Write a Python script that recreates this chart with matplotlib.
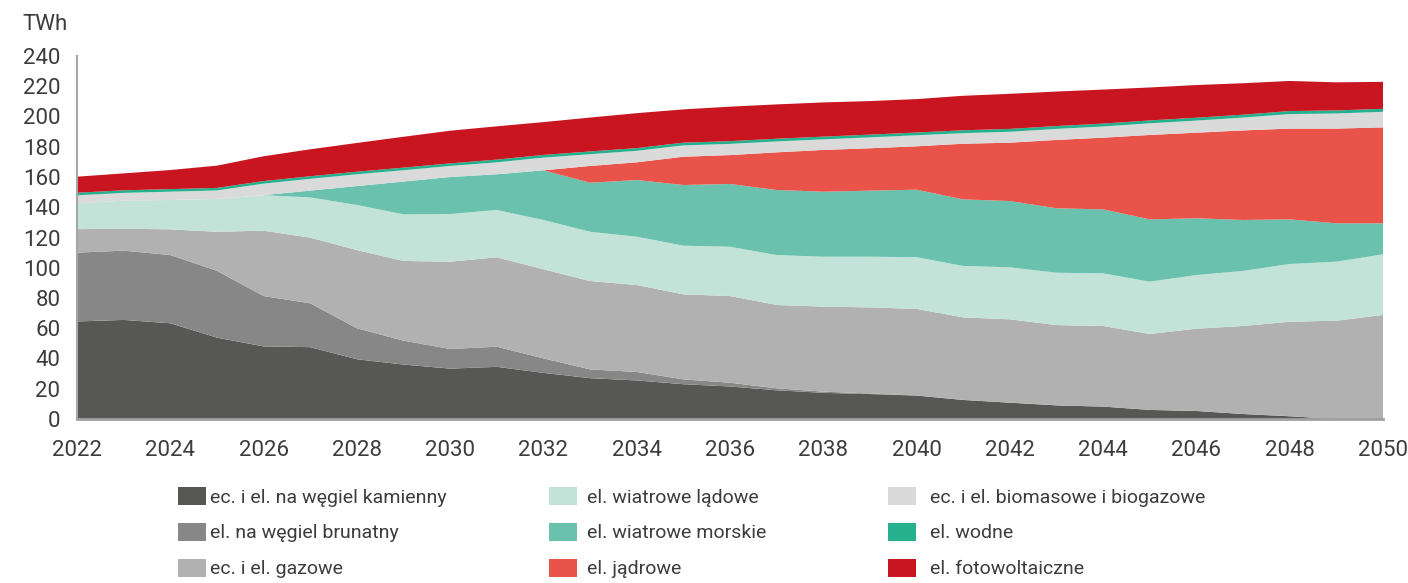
import matplotlib
matplotlib.use("Agg")
from matplotlib import pyplot as plt
from matplotlib.patches import Patch
import numpy as np

years = list(range(2022, 2051))

# TWh per source (stack order bottom -> top)
coal = [64.5, 65.5, 63.3, 53.8, 48.0, 47.5, 39.5, 36.0, 33.3, 34.5,
        30.5, 27.0, 25.5, 23.0, 21.5, 19.0, 17.3, 16.5, 15.5, 12.6,
        10.8, 9.0, 8.2, 6.0, 5.3, 3.3, 1.8, 0.0, 0.0]
lignite = [45.5, 45.8, 45.1, 44.2, 33.3, 29.0, 20.5, 15.8, 13.0, 13.3,
           9.6, 5.8, 5.6, 3.2, 2.5, 1.3, 0.8, 0.4, 0.0, 0.0,
           0.0, 0.0, 0.0, 0.0, 0.0, 0.0, 0.0, 0.0, 0.0]
gas = [15.5, 14.5, 17.0, 25.8, 43.2, 43.4, 51.7, 52.7, 57.7, 59.1,
       58.9, 58.4, 57.5, 56.2, 57.3, 55.1, 56.2, 56.9, 57.3, 54.6,
       55.1, 53.1, 53.3, 50.2, 54.4, 58.2, 62.5, 65.0, 68.8]
wind_on = [17.1, 18.5, 19.4, 21.7, 23.5, 26.6, 29.8, 30.8, 31.5, 31.3,
           32.6, 32.6, 31.9, 32.2, 32.6, 33.0, 33.0, 33.5, 34.2, 34.0,
           34.4, 34.6, 34.8, 34.6, 35.5, 36.4, 38.2, 39.0, 40.1]
wind_off = [0.0, 0.0, 0.0, 0.0, 0.0, 4.5, 12.5, 21.7, 24.5, 23.6,
            32.8, 32.4, 37.5, 40.1, 41.5, 43.0, 43.0, 43.7, 44.6, 44.0,
            43.8, 42.6, 42.3, 41.2, 37.5, 33.7, 29.5, 25.4, 20.5]
nuclear = [0.0, 0.0, 0.0, 0.0, 0.0, 0.0, 0.0, 0.0, 0.0, 0.0,
           0.0, 11.1, 11.7, 18.7, 19.1, 24.9, 27.6, 28.0, 28.7, 36.8,
           38.6, 45.2, 47.4, 55.8, 56.6, 59.2, 60.0, 62.6, 63.4]
biomass = [5.3, 5.2, 5.5, 5.6, 7.6, 7.8, 7.8, 7.5, 7.3, 7.9,
           8.4, 7.8, 7.6, 7.5, 7.4, 7.2, 7.0, 7.2, 7.3, 7.0,
           7.2, 7.3, 7.4, 7.7, 8.0, 8.5, 9.6, 10.0, 10.3]
hydro = [1.7, 1.7, 1.7, 1.7, 1.7, 1.7, 1.7, 1.7, 1.7, 1.8,
         1.8, 1.8, 1.8, 1.8, 1.8, 1.8, 1.8, 1.8, 1.8, 1.9,
         1.9, 1.9, 1.9, 1.9, 1.9, 1.9, 2.0, 2.0, 2.0]
pv = [10.6, 11.2, 12.6, 14.7, 16.4, 17.8, 19.0, 20.4, 21.6, 22.0,
      21.7, 22.4, 23.1, 22.0, 22.8, 22.7, 22.6, 22.2, 22.1, 22.8,
      23.2, 22.8, 22.5, 21.8, 21.6, 20.8, 19.9, 18.6, 17.8]

labels = [
    "ec. i el. na węgiel kamienny",
    "el. na węgiel brunatny",
    "ec. i el. gazowe",
    "el. wiatrowe lądowe",
    "el. wiatrowe morskie",
    "el. jądrowe",
    "ec. i el. biomasowe i biogazowe",
    "el. wodne",
    "el. fotowoltaiczne",
]
colors = ["#575756", "#878787", "#b1b1b1", "#c3e3d8", "#69c1ae",
          "#e9534a", "#dadada", "#25b18e", "#c8151f"]

plt.rcParams["font.family"] = ["Roboto", "DejaVu Sans"]
text_color = "#3c3c3c"

fig = plt.figure(figsize=(14.08, 5.83), dpi=100)
ax = fig.add_axes([77 / 1408, 1 - 419 / 583, 1306 / 1408, 363 / 583])

series = [coal, lignite, gas, wind_on, wind_off, nuclear, biomass, hydro, pv]
ax.stackplot(years, np.array(series), colors=colors, linewidth=0)

ax.set_xlim(2022, 2050)
ax.set_ylim(0, 240)
ax.set_xticks(range(2022, 2051, 2))
ax.set_yticks(range(0, 241, 20))
ax.tick_params(axis="x", length=0, pad=15, labelsize=16, labelcolor=text_color)
ax.tick_params(axis="y", length=0, pad=12, labelsize=16, labelcolor=text_color)
for side in ["top", "right"]:
    ax.spines[side].set_visible(False)
ax.spines["left"].set_color("#a6a6a6")
ax.spines["left"].set_linewidth(1.5)
ax.spines["bottom"].set_color("#a0a0a0")
ax.spines["bottom"].set_linewidth(2)

fig.text(22 / 1408, 1 - 24 / 583, "TWh", fontsize=16, color=text_color,
         ha="left", va="center")

# legend: three columns placed by hand
handles = [Patch(facecolor=c, edgecolor="none") for c in colors]
col_x = [178, 549, 888]
text_pad = [0.2, 0.5, 0.7]
for i, x in enumerate(col_x):
    leg = fig.legend(handles[i * 3:i * 3 + 3], labels[i * 3:i * 3 + 3],
                     loc="upper left", bbox_to_anchor=(x / 1408, 1 - 487 / 583),
                     frameon=False, fontsize=14, borderpad=0, borderaxespad=0,
                     handlelength=1.45, handleheight=1.05,
                     handletextpad=text_pad[i], labelspacing=0.83)
    for t in leg.get_texts():
        t.set_color(text_color)

fig.savefig("out.png", dpi=100)
